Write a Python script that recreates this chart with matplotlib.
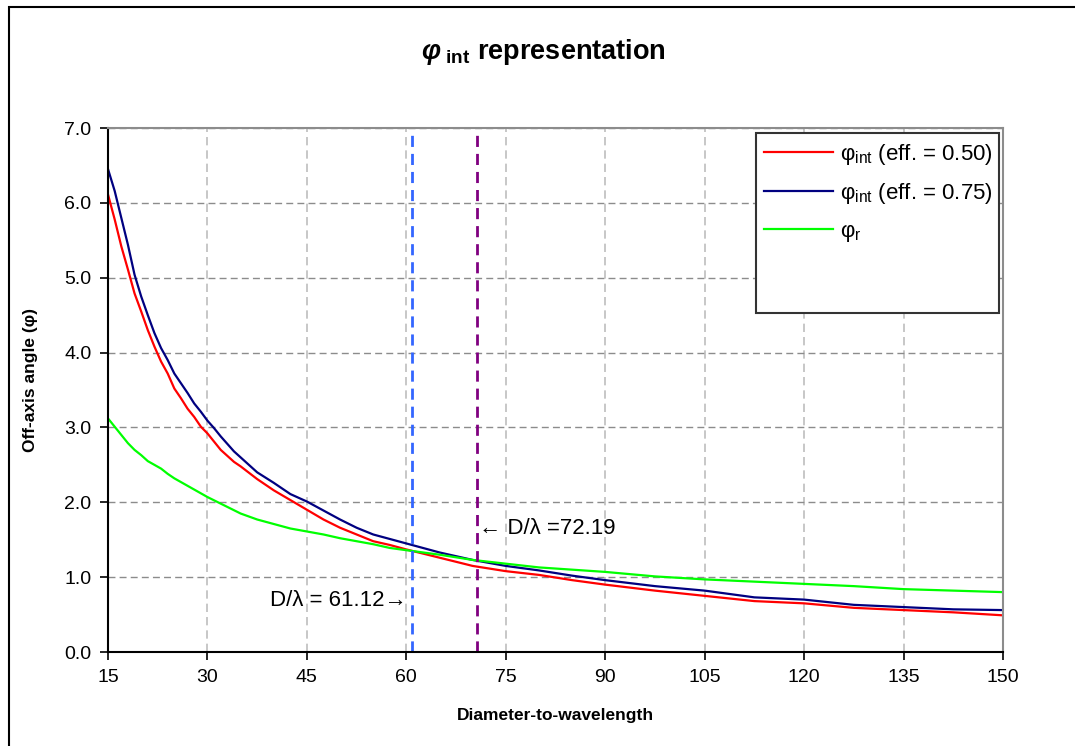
import matplotlib.pyplot as plt
from matplotlib.patches import Rectangle

plt.rcParams['font.family'] = ['Liberation Sans', 'DejaVu Sans']
plt.rcParams['mathtext.fontset'] = 'custom'
plt.rcParams['mathtext.rm'] = 'Liberation Sans'
plt.rcParams['mathtext.it'] = 'Liberation Sans:italic'
plt.rcParams['mathtext.bf'] = 'Liberation Sans:bold'
plt.rcParams['mathtext.bfit'] = 'Liberation Sans:italic:bold'

# values
d_lambda = [15, 16, 17, 18, 19, 20, 21, 22, 23, 24, 25, 26, 27, 28, 29, 30, 31, 32, 33, 34,
            35, 37.5, 40, 42.5, 45, 47.5, 50, 52.5, 55, 57.5, 60, 65, 70, 75, 80, 85, 90,
            97.5, 105, 112.5, 120, 127.5, 135, 142.5, 150]
phi_int_050 = [6.11, 5.78, 5.42, 5.11, 4.79, 4.55, 4.30, 4.08, 3.88, 3.72,
               3.52, 3.39, 3.25, 3.14, 3.01, 2.92, 2.81, 2.70, 2.62, 2.54,
               2.48, 2.31, 2.16, 2.03, 1.90, 1.77, 1.66, 1.57, 1.48, 1.43, 1.37,
               1.26, 1.15, 1.08, 1.03, 0.96, 0.90,
               0.82, 0.75, 0.68, 0.65, 0.59, 0.56, 0.53, 0.49]
phi_int_075 = [6.45, 6.16, 5.80, 5.44, 5.04, 4.75, 4.50, 4.26, 4.06, 3.90,
               3.72, 3.59, 3.46, 3.32, 3.21, 3.09, 2.99, 2.88, 2.78, 2.68,
               2.60, 2.40, 2.26, 2.11, 2.01, 1.89, 1.77, 1.66, 1.57, 1.51, 1.45,
               1.33, 1.23, 1.15, 1.09, 1.02, 0.96,
               0.88, 0.82, 0.73, 0.70, 0.63, 0.60, 0.57, 0.56]
d_lambda_r = [15, 16, 17, 18, 19, 20, 21, 22, 23, 24, 25, 30, 32.5, 35, 37.5, 40, 42.5, 45,
              47.5, 50, 52.5, 55, 57.5, 60, 65, 70, 75, 80, 85, 90,
              97.5, 105, 112.5, 120, 127.5, 135, 142.5, 150]
phi_r = [3.12, 3.01, 2.90, 2.79, 2.70, 2.63, 2.55, 2.50, 2.45, 2.38, 2.32, 2.07, 1.96,
         1.85, 1.77, 1.71, 1.65, 1.61, 1.57, 1.52, 1.48, 1.44, 1.39, 1.36, 1.30, 1.23,
         1.18, 1.13, 1.10, 1.07, 1.01, 0.97, 0.94, 0.91, 0.88, 0.84, 0.82, 0.80]
x_ticks = [15, 30, 45, 60, 75, 90, 105, 120, 135, 150]
y_ticks = [0.0, 1.0, 2.0, 3.0, 4.0, 5.0, 6.0, 7.0]
cross_050 = 60.9
cross_075 = 70.6

fig = plt.figure(figsize=(10.75, 7.46), dpi=100)
ax = fig.add_axes([0.1005, 0.126, 0.8325, 0.7024])

ax.plot(d_lambda, phi_int_050, color='#ff0000', lw=1.6, label='φ$_{\\mathrm{int}}$ (eff. = 0.50)')
ax.plot(d_lambda, phi_int_075, color='#000080', lw=1.6, label='φ$_{\\mathrm{int}}$ (eff. = 0.75)')
ax.plot(d_lambda_r, phi_r, color='#00ff00', lw=1.6, label='φ$_{\\mathrm{r}}$')

ax.axvline(cross_050, color='#3366ff', lw=2, ls=(0, (4, 2.5)))
ax.axvline(cross_075, color='#800080', lw=2, ls=(0, (4, 2.5)))

ax.text(cross_075 + 0.3, 1.65, '← D/λ =72.19', fontsize=16, va='center', ha='left')
ax.text(cross_050 - 0.8, 0.69, 'D/λ = 61.12→', fontsize=16, va='center', ha='right')

ax.set_xlim(15, 150)
ax.set_ylim(0, 7)
ax.set_xticks(x_ticks)
ax.set_yticks(y_ticks)
ax.yaxis.set_major_formatter(plt.FuncFormatter(lambda v, loc: f"{v:.1f}"))
ax.tick_params(direction='out', length=6, width=1.2, labelsize=14, colors='black', pad=6)

ax.xaxis.grid(True, color='#bdbdbd', ls=(0, (5, 3)), lw=1.2)
ax.yaxis.grid(True, color='#8c8c8c', ls=(0, (5, 3)), lw=1.0)
ax.set_axisbelow(True)

for side in ['left', 'bottom']:
    ax.spines[side].set_color('black')
    ax.spines[side].set_linewidth(1.5)
for side in ['top', 'right']:
    ax.spines[side].set_color('#8c8c8c')
    ax.spines[side].set_linewidth(1.5)

ax.set_xlabel('Diameter-to-wavelength', fontsize=12.5, fontweight='bold', labelpad=16)
ax.set_ylabel('Off-axis angle (φ)', fontsize=12.5, fontweight='bold', labelpad=16)
ax.yaxis.set_label_coords(-0.078, 0.52)
fig.text(0.506, 0.930, r'$\mathbfit{φ}_{\mathbf{\ int}}$ representation', fontsize=19.5,
         fontweight='bold', ha='center', va='center')

# legend box (fixed size like the original)
ax.add_patch(Rectangle((0.724, 0.647), 0.2715, 0.343, transform=ax.transAxes,
                       fill=True, facecolor='white', edgecolor='#333333', lw=1.5, zorder=4))
leg = ax.legend(loc='upper left', bbox_to_anchor=(0.724, 0.99), frameon=False, fontsize=16,
                handlelength=3.1, handletextpad=0.3, labelspacing=0.65, borderaxespad=0.0,
                borderpad=0.38)
leg.set_zorder(5)

fig.add_artist(Rectangle((9 / 1075, -0.1), 1.2, 1.1 - 7 / 746, transform=fig.transFigure,
                         fill=False, edgecolor='black', lw=1.5))

plt.savefig('out.png', dpi=100)
